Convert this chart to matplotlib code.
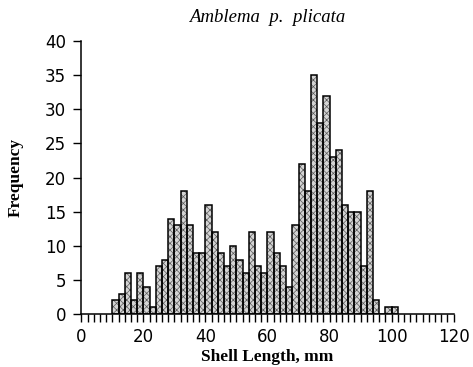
import matplotlib
matplotlib.use("Agg")
import matplotlib.pyplot as plt
from matplotlib.ticker import MultipleLocator

# Shell length classes (left edge of each 2 mm bin) and counts
bin_left = [10, 12, 14, 16, 18, 20, 22, 24, 26, 28,
            30, 32, 34, 36, 38, 40, 42, 44, 46, 48,
            50, 52, 54, 56, 58, 60, 62, 64, 66, 68,
            70, 72, 74, 76, 78, 80, 82, 84, 86, 88,
            90, 92, 94, 96, 98, 100]
counts = [2, 3, 6, 2, 6, 4, 1, 7, 8, 14,
          13, 18, 13, 9, 9, 16, 12, 9, 7, 10,
          8, 6, 12, 7, 6, 12, 9, 7, 4, 13,
          22, 18, 35, 28, 32, 23, 24, 16, 15, 15,
          7, 18, 2, 0, 1, 1]
bin_width = 2
x_ticks = [0, 20, 40, 60, 80, 100, 120]
y_ticks = [0, 5, 10, 15, 20, 25, 30, 35, 40]

plt.rcParams['hatch.linewidth'] = 0.5

fig = plt.figure(figsize=(4.73, 3.67), dpi=100)
ax = fig.add_axes([0.172, 0.144, 0.787, 0.744])

# stippled fill first, then black outlines on top
ax.bar(bin_left, counts, width=bin_width, align='edge',
       facecolor='#d4d4d4', edgecolor='#5a5a5a', linewidth=0, hatch='xxxxx')
ax.bar(bin_left, counts, width=bin_width, align='edge',
       fill=False, edgecolor='black', linewidth=1.1)

ax.set_xlim(0, 120)
ax.set_ylim(0, 40)
ax.set_xticks(x_ticks)
ax.set_yticks(y_ticks)
ax.xaxis.set_minor_locator(MultipleLocator(2))

for side in ['top', 'right']:
    ax.spines[side].set_visible(False)
ax.spines['left'].set_linewidth(1.1)
ax.spines['bottom'].set_linewidth(1.1)

ax.tick_params(axis='x', which='both', direction='out', length=6, width=1.0)
ax.tick_params(axis='x', which='major', pad=4, labelsize=12)
ax.tick_params(axis='y', direction='out', length=6, width=1.0, pad=5, labelsize=12)
for lab in ax.get_xticklabels() + ax.get_yticklabels():
    lab.set_fontfamily('DejaVu Sans')

ax.set_title('Amblema  p.  plicata', family='Liberation Serif', style='italic',
             fontsize=13.5, pad=14)
ax.set_xlabel('Shell Length, mm', family='Liberation Serif', fontweight='bold',
              fontsize=12.5, labelpad=2)
ax.set_ylabel('Frequency', family='Liberation Serif', fontweight='bold',
              fontsize=12.5, labelpad=15)

plt.savefig('out.png', dpi=100, facecolor='white')
